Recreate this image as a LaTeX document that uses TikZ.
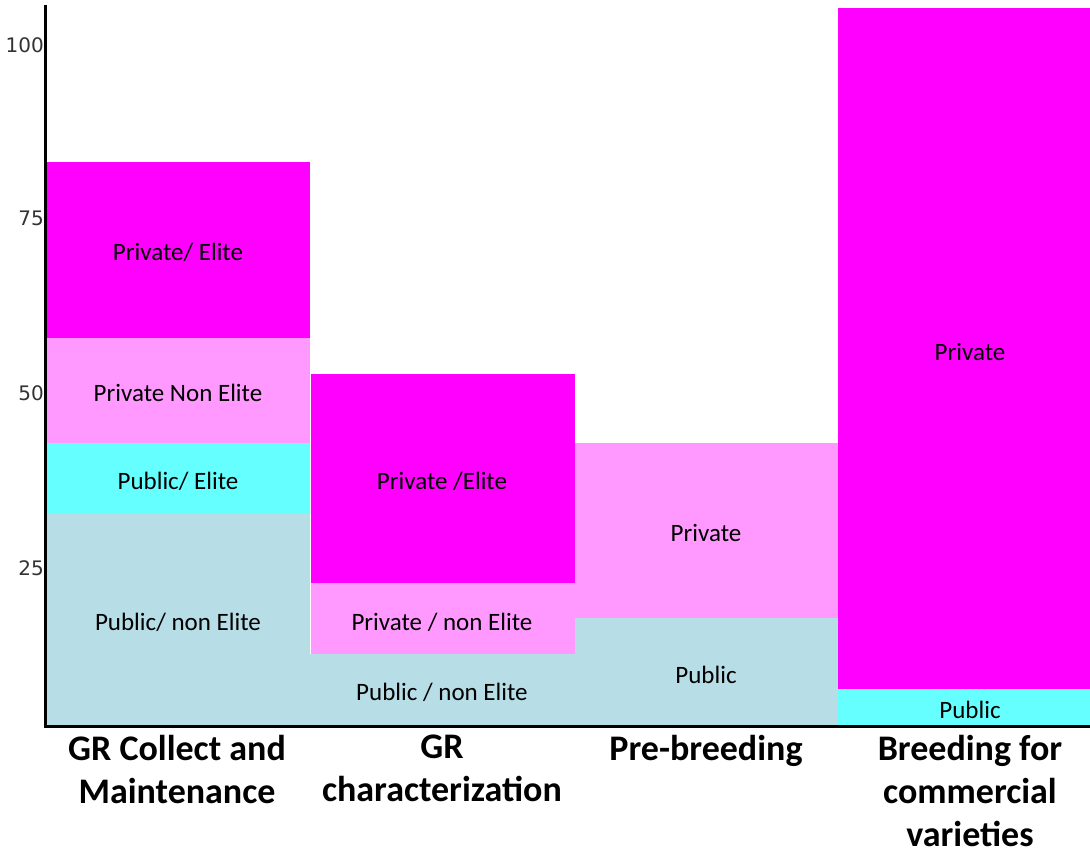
\documentclass[tikz,border=0pt]{standalone}
\usepackage{fontspec}
\setmainfont{Carlito}
\newfontfamily\tickfont{DejaVu Sans}
\usepackage{tikz}

\definecolor{privelite}{HTML}{FF00FF}
\definecolor{privnon}{HTML}{FF99FF}
\definecolor{pubelite}{HTML}{66FFFF}
\definecolor{pubnon}{HTML}{B7DDE6}

\tikzset{
  inlab/.style={font=\fontsize{25}{29}\selectfont, text=black, inner sep=0pt},
  catlab/.style={font=\fontsize{36}{43}\selectfont\bfseries, align=center, anchor=north, inner sep=0pt},
  ticklab/.style={font=\tickfont\fontsize{20}{22}\selectfont, text=black!80, anchor=east, inner sep=0pt}
}

\begin{document}
\begin{tikzpicture}[x=1pt, y=-1pt]
\useasboundingbox (0,0) rectangle (1090,856);
% GR Collect and Maintenance
\fill[pubnon]    (45,514) rectangle (310,726);
\fill[pubelite]  (45,443) rectangle (310,514);
\fill[privnon]   (45,338) rectangle (310,443);
\fill[privelite] (45,162) rectangle (310,338);
% GR characterization
\fill[pubnon]    (310,654) rectangle (575,726);
\fill[privnon]   (311,583) rectangle (575,654);
\fill[privelite] (311,374) rectangle (575,583);
% Pre-breeding
\fill[pubnon]    (575,618) rectangle (838,726);
\fill[privnon]   (575,443) rectangle (838,618);
% Breeding for commercial varieties
\fill[pubelite]  (838,689) rectangle (1090,726);
\fill[privelite] (838,8) rectangle (1090,689);

% axes
\draw[black, line width=3pt] (45,5) -- (45,726) -- (1090,726);

\node[ticklab] (t100) at (44,45) {100};
\node[ticklab] (t75) at (44,218) {75};
\node[ticklab] (t50) at (44,393) {50};
\node[ticklab] (t25) at (44,568) {25};

\node[inlab] (a1) at (178,252) {Private/ Elite};
\node[inlab] (a2) at (178,393) {Private Non Elite};
\node[inlab] (a3) at (178,481) {Public/ Elite};
\node[inlab] (a4) at (178,622) {Public/ non Elite};
\node[inlab] (b1) at (442,481) {Private /Elite};
\node[inlab] (b2) at (442,622) {Private / non Elite};
\node[inlab] (b3) at (442,692) {Public / non Elite};
\node[inlab] (c1) at (706,533) {Private};
\node[inlab] (c2) at (706,675) {Public};
\node[inlab] (d1) at (970,352) {Private};
\node[inlab] (d2) at (970,710) {Public};

\node[catlab] (gra) at (177,735) {GR Collect and\\Maintenance};
\node[catlab] (grb) at (442,735) {GR\\characterization};
\node[catlab] (pre) at (706,735) {Pre-breeding};
\node[catlab] (brd) at (970,735) {Breeding for\\commercial\\varieties};
\end{tikzpicture}
\end{document}
